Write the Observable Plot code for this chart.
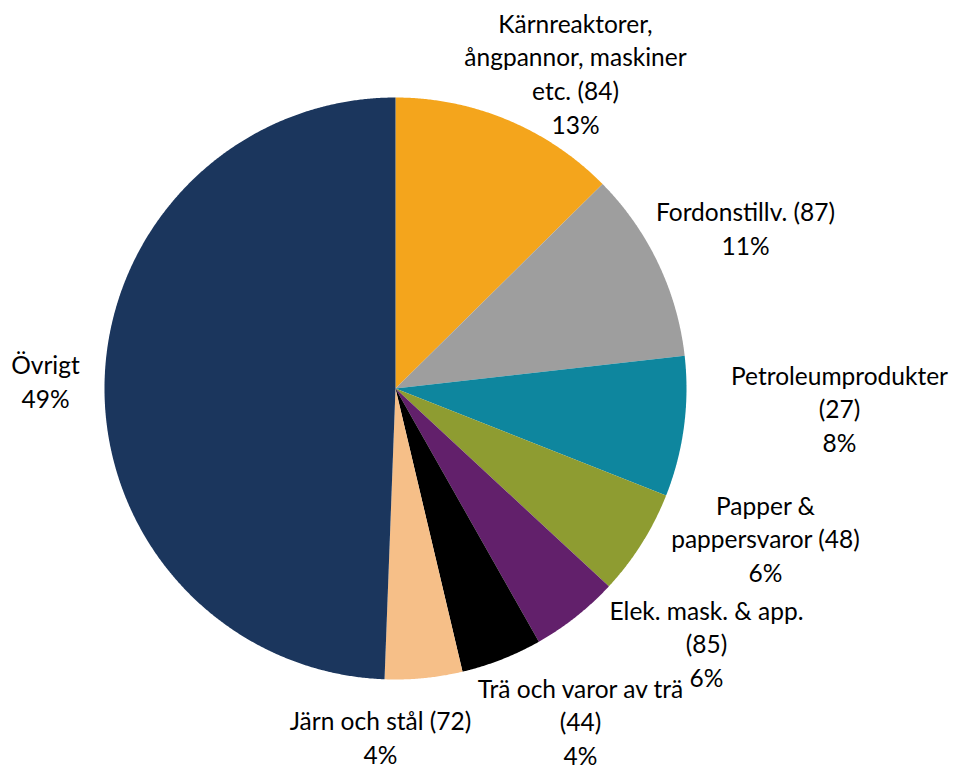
<!DOCTYPE html>
<html>
<head>
<meta charset="utf-8">
<script src="https://cdn.jsdelivr.net/npm/d3@7"></script>
<script src="https://cdn.jsdelivr.net/npm/@observablehq/plot@0.6"></script>
<style>
  html, body { margin: 0; padding: 0; background: #fff; }
  #chart svg { display: block; }
</style>
</head>
<body>
<div id="chart"></div>
<script>
// ---- data ----
const categories = [
  "Kärnreaktorer,\nångpannor, maskiner\netc. (84)",
  "Fordonstillv. (87)",
  "Petroleumprodukter\n(27)",
  "Papper &\npappersvaror (48)",
  "Elek. mask. & app.\n(85)",
  "Trä och varor av trä\n(44)",
  "Järn och stål (72)",
  "Övrigt"
];
const shares = [12.6, 10.6, 7.8, 5.9, 4.9, 4.5, 4.3, 49.4];
const shareLabels = ["13%", "11%", "8%", "6%", "6%", "4%", "4%", "49%"];
const colors = ["#F4A51C", "#9E9E9E", "#0E869E", "#8E9C31", "#62206B", "#000000", "#F6BF88", "#1B365D"];

// ---- layout ----
const W = 960, H = 769;
const cx = 395, cy = 388, R = 291;
const labelPos = [
  [575, 72], [745, 227], [839, 407], [765, 537],
  [706, 642], [580, 720], [380, 736], [45, 380]
];

// build slice outlines from d3.pie angles
const arcs = d3.pie().sort(null).value(d => d)(shares);
const slicePts = [];
arcs.forEach((a, i) => {
  const n = Math.max(8, Math.ceil((a.endAngle - a.startAngle) / 0.005));
  slicePts.push({k: i, x: cx, y: cy});
  for (let j = 0; j <= n; j++) {
    const t = a.startAngle + (a.endAngle - a.startAngle) * j / n;
    slicePts.push({k: i, x: cx + R * Math.sin(t), y: cy - R * Math.cos(t)});
  }
  slicePts.push({k: i, x: cx, y: cy});
});

const labels = categories.map((c, i) => ({
  text: c + "\n" + shareLabels[i],
  x: labelPos[i][0],
  y: labelPos[i][1]
}));

const chart = Plot.plot({
  width: W,
  height: H,
  margin: 0,
  x: {domain: [0, W], range: [0, W], axis: null},
  y: {domain: [0, H], range: [0, H], axis: null},
  color: {domain: d3.range(categories.length), range: colors},
  style: {fontFamily: "Lato, 'Open Sans', sans-serif", background: "#fff"},
  marks: [
    Plot.line(slicePts, {x: "x", y: "y", z: "k", fill: "k", stroke: "none", curve: "linear"}),
    Plot.text(labels, {
      x: "x", y: "y", text: "text",
      fontSize: 24.5, lineHeight: 1.37, fill: "#000",
      textAnchor: "middle", lineAnchor: "middle"
    })
  ]
});
document.getElementById("chart").appendChild(chart);
</script>
</body>
</html>
